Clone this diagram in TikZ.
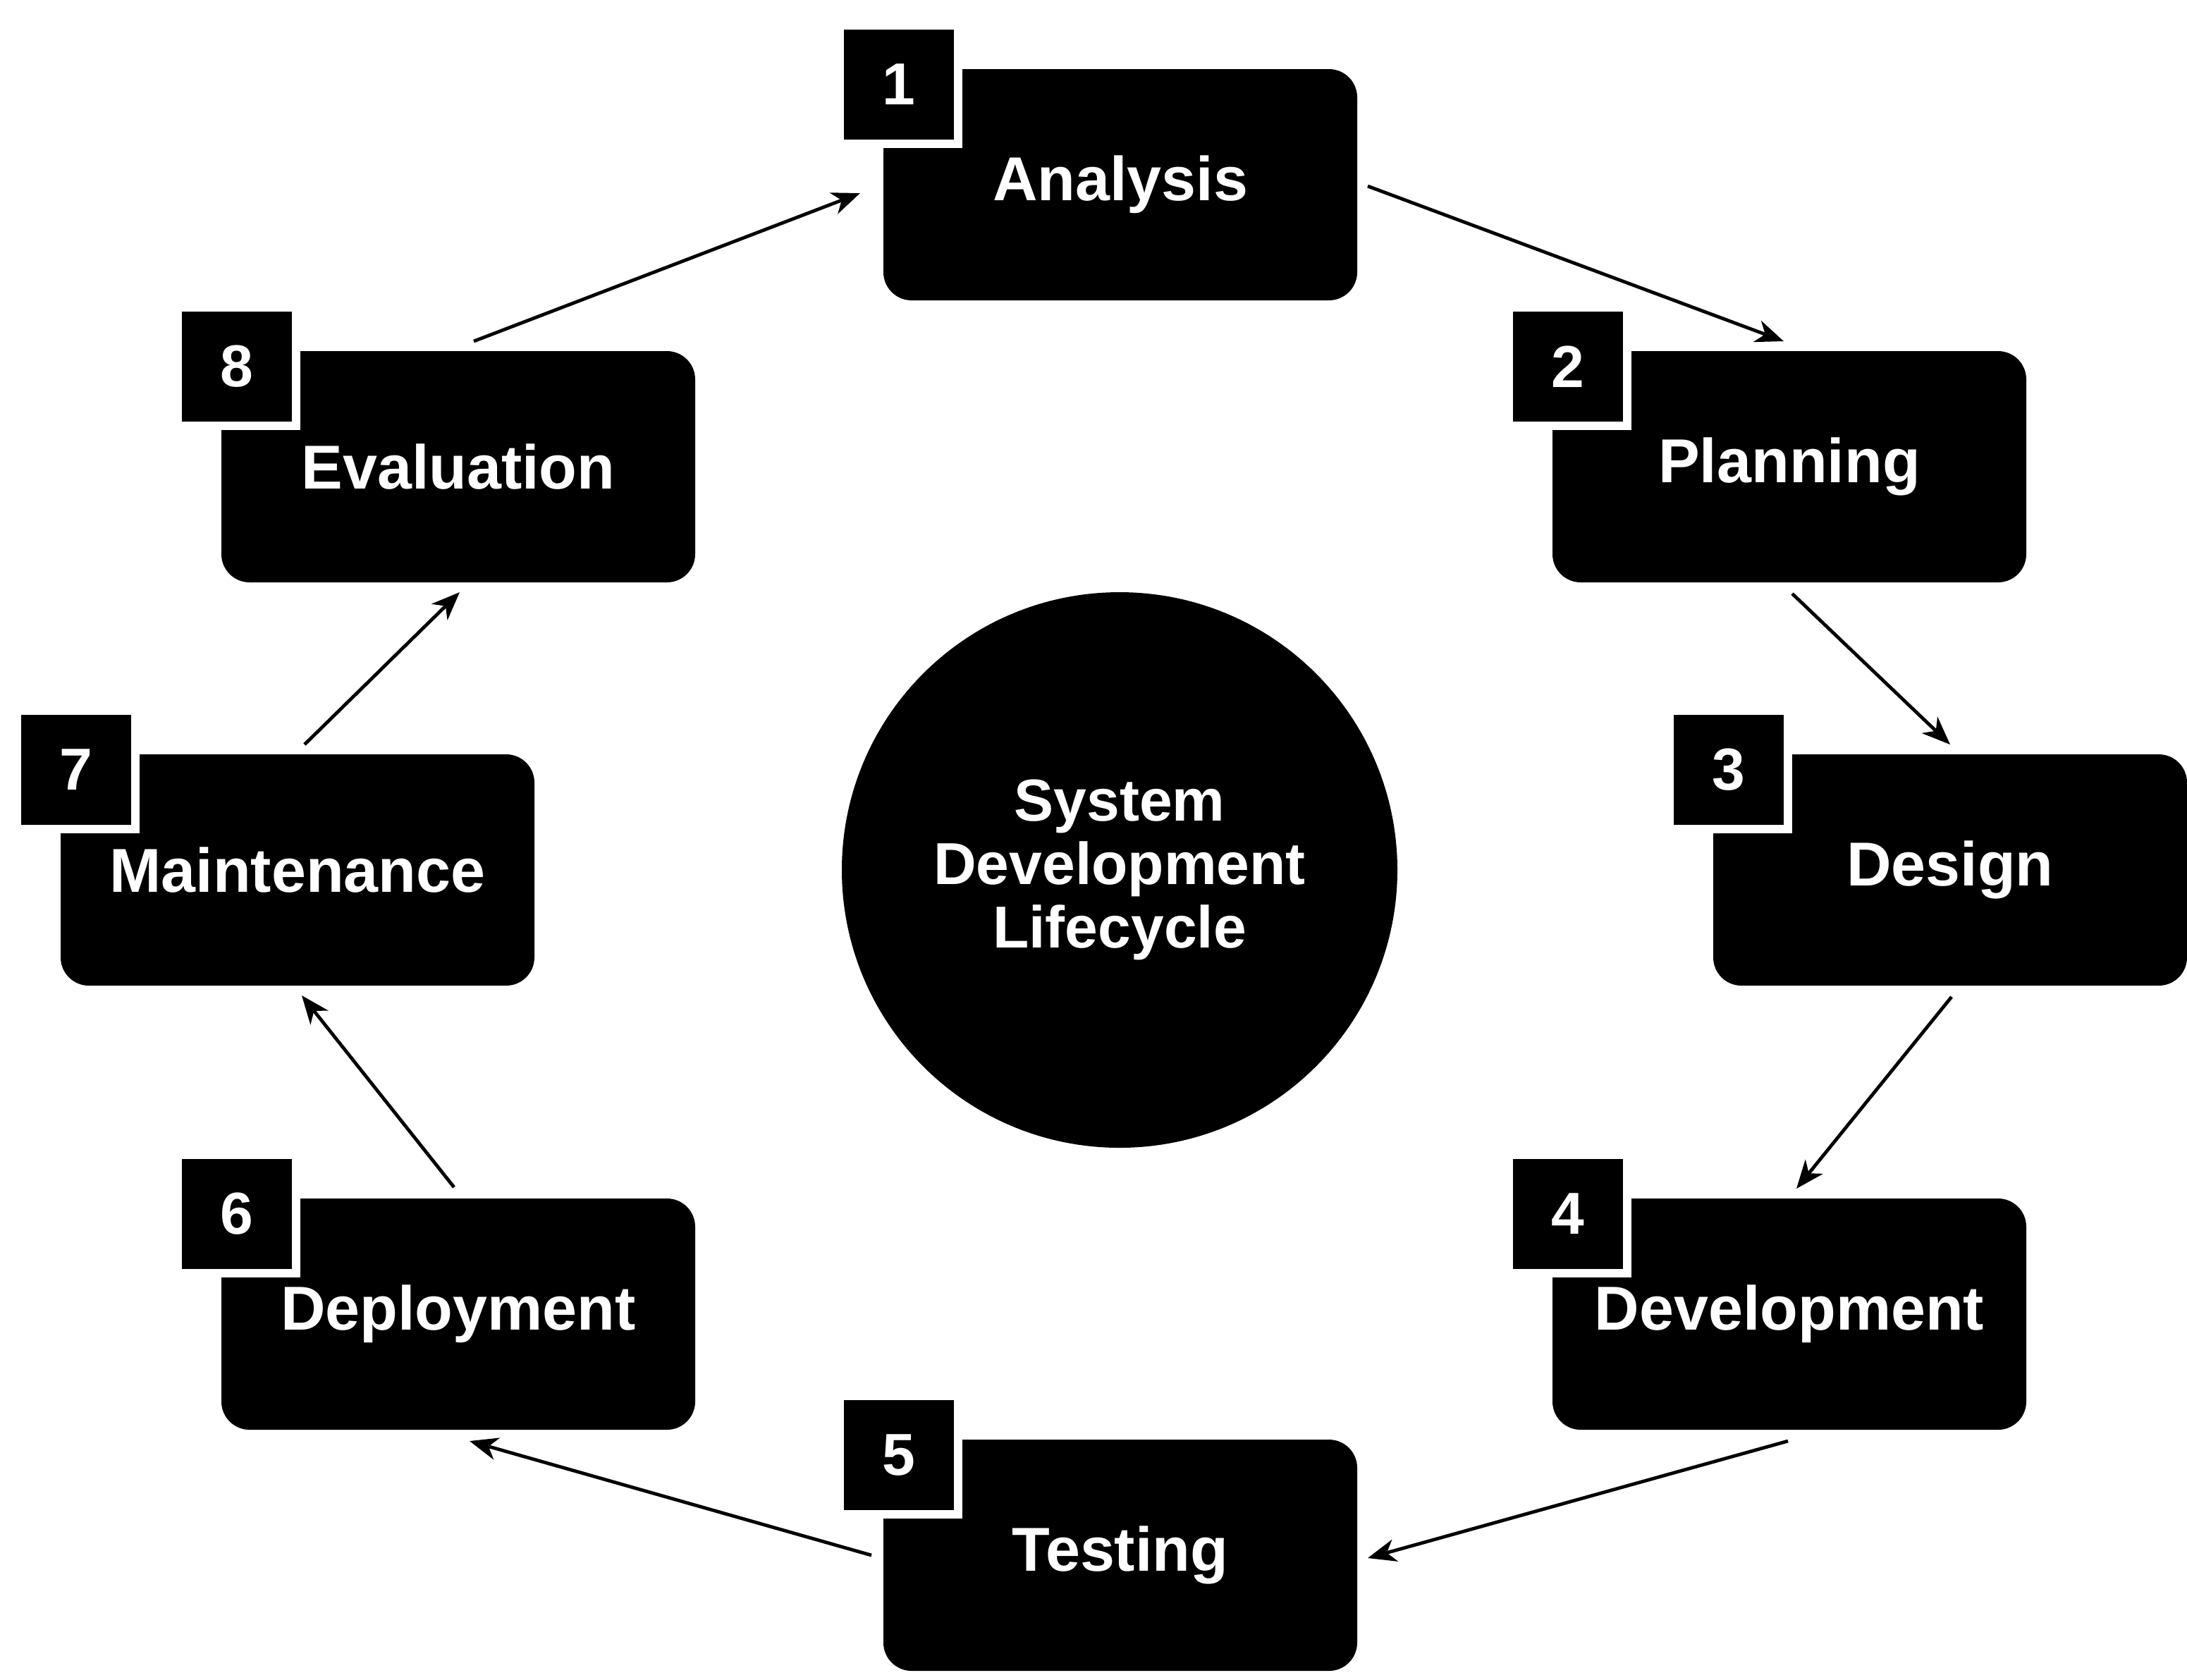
\documentclass[tikz,border=0pt]{standalone}
\usepackage{fontspec}
\setmainfont{Liberation Sans}
\usetikzlibrary{arrows.meta}
\begin{document}
\begin{tikzpicture}[x=0.5pt,y=-0.5pt,
  box/.style={fill=black,rounded corners=10pt,minimum width=168pt,minimum height=82pt,inner sep=0pt,text=white,font=\fontsize{22}{26}\selectfont\bfseries},
  badge/.style={fill=black,draw=white,line width=3pt,minimum size=42pt,inner sep=0pt,text=white,font=\fontsize{21}{24}\selectfont\bfseries},
  arr/.style={-{Stealth[length=10pt,width=8pt,inset=3pt]},line width=1.2pt}]
\useasboundingbox (0,0) rectangle (1551,1191);
\node[circle,fill=black,minimum size=197pt,text=white,align=center,font=\fontsize{21}{22.5}\selectfont\bfseries] (c) at (794,617) {System\\Development\\Lifecycle};
\foreach \n/\t/\x/\y/\k in {a/Analysis/794.5/131/1, p/Planning/1269/331/2, d/Design/1383/617/3, v/Development/1269/932/4, t/Testing/794.5/1103/5, y/Deployment/325/932/6, m/Maintenance/211/617/7, e/Evaluation/325/331/8}{
  \node[box] (\n) at (\x,\y) {\t};
  \node[badge] (\n b) at (\x-157,\y-71) {\k};
}
\coordinate (e1) at (336,242); \coordinate (a0) at (610,137);
\coordinate (a1) at (970,132); \coordinate (p0) at (1265,242);
\coordinate (p1) at (1271,421); \coordinate (d0) at (1383,528);
\coordinate (d1) at (1384,707); \coordinate (v0) at (1274,843);
\coordinate (v1) at (1268,1022); \coordinate (t0) at (970,1105);
\coordinate (t1) at (618,1103); \coordinate (y0) at (333,1022);
\coordinate (y1) at (322,842); \coordinate (m0) at (214,706);
\coordinate (m1) at (216,528); \coordinate (e0) at (326,420);
\draw[arr] (e1) -- (a0);
\draw[arr] (a1) -- (p0);
\draw[arr] (p1) -- (d0);
\draw[arr] (d1) -- (v0);
\draw[arr] (v1) -- (t0);
\draw[arr] (t1) -- (y0);
\draw[arr] (y1) -- (m0);
\draw[arr] (m1) -- (e0);
\end{tikzpicture}
\end{document}
